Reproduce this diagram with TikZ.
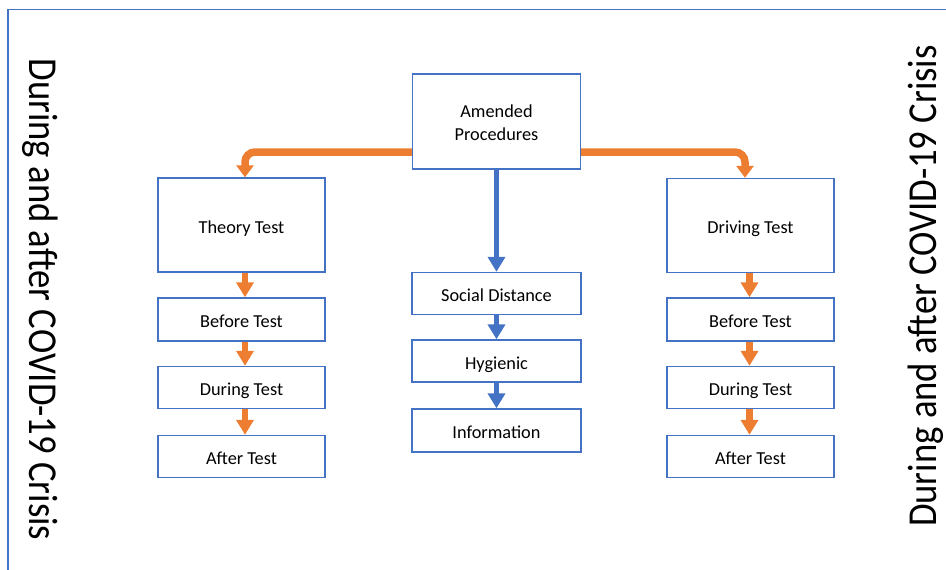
\documentclass[tikz,border=0pt]{standalone}
\usepackage{fontspec}
\setmainfont{Carlito}
\usetikzlibrary{arrows.meta}
\definecolor{bblue}{HTML}{4472C4}
\definecolor{oorange}{HTML}{ED7D31}
\begin{document}
\begin{tikzpicture}[x=1pt,y=-1pt,
  boxfont/.style={font=\fontsize{18.3}{23}\selectfont, text=black, align=center, inner sep=0pt},
  box/.style={boxfont, draw=bblue, line width=1.4pt, fill=white, text height=16pt, text depth=0pt},
  bigbox/.style={box, minimum width=167pt, minimum height=94pt},
  smallbox/.style={box, minimum width=167pt, minimum height=42pt},
  oarr/.style={draw=oorange, line width=6.5pt, -{Triangle[width=17pt,length=15pt]}},
  otop/.style={draw=oorange, line width=7.5pt, rounded corners=10pt, -{Triangle[width=17pt,length=12pt]}},
  barr/.style={draw=bblue, line width=5.5pt, -{Triangle[width=17pt,length=15pt]}},
  sidetext/.style={font=\fontsize{36.7}{40}\selectfont, inner sep=0pt, anchor=base, text=black}
]
\useasboundingbox (0,0) rectangle (946,570);
\draw[bblue, line width=1.2pt] (8,570) -- (8,9.5) -- (946,9.5);

% side labels
\node[sidetext, rotate=-90] (lt) at (29.5,299.5) {\scalebox{1}[1.12]{During and after COVID-19 Crisis}};
\node[sidetext, rotate=90] (rt) at (936.5,286) {\scalebox{1}[1.12]{During and after COVID-19 Crisis}};

% boxes
\node[bigbox, minimum width=168pt, minimum height=95pt] (amend) at (496.5,121.5) {};
\node[boxfont] (amendtxt) at (496.5,122.7) {Amended\\Procedures};
\node[bigbox] (theory) at (241.5,225) {Theory Test};
\node[bigbox] (driving) at (750.5,225.5) {Driving Test};

\node[smallbox, minimum height=43pt] (lb) at (241.5,319.5) {Before Test};
\node[smallbox] (ld) at (241.5,387.5) {During Test};
\node[smallbox] (la) at (241.5,456.5) {After Test};

\node[smallbox, minimum height=43pt] (rb) at (750.5,319.5) {Before Test};
\node[smallbox] (rd) at (750.5,387.5) {During Test};
\node[smallbox] (ra) at (750.5,456.5) {After Test};

\node[smallbox, minimum width=169pt] (ms) at (496.5,293.5) {Social Distance};
\node[smallbox, minimum width=169pt] (mh) at (496.5,361) {Hygienic};
\node[smallbox, minimum width=169pt, minimum height=43pt] (mi) at (496.5,430.5) {Information};

% top connectors
\draw[otop] ([yshift=-30.5pt]amend.west) -| ([xshift=3.5pt]theory.north);
\draw[otop] ([yshift=-30.5pt]amend.east) -| ([xshift=-5.5pt]driving.north);
\draw[barr] (amend.south) -- (ms.north);

% column arrows
\draw[oarr] ([xshift=3.5pt]theory.south) -- ([xshift=3.5pt]lb.north);
\draw[oarr] ([xshift=3.5pt]lb.south) -- ([xshift=3.5pt]ld.north);
\draw[oarr] ([xshift=3.5pt]ld.south) -- ([xshift=3.5pt]la.north);

\draw[oarr] ([xshift=-1pt]driving.south) -- ([xshift=-1pt]rb.north);
\draw[oarr] ([xshift=-1pt]rb.south) -- ([xshift=-1pt]rd.north);
\draw[oarr] ([xshift=-1pt]rd.south) -- ([xshift=-1pt]ra.north);

\draw[barr] (ms.south) -- (mh.north);
\draw[barr] (mh.south) -- (mi.north);
\end{tikzpicture}
\end{document}
